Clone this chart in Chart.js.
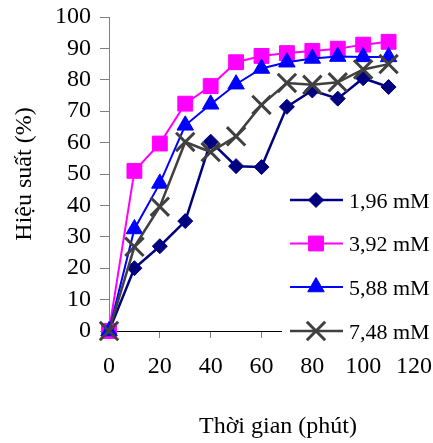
<!DOCTYPE html>
<html lang="vi">
<head>
<meta charset="UTF-8">
<title>Hiệu suất theo thời gian</title>
<script src="https://cdn.jsdelivr.net/npm/chart.js@4.4.1/dist/chart.umd.min.js"></script>
<style>
  body { margin: 0; background: #fff; }
  #wrap { width: 433px; height: 443px; }
</style>
</head>
<body>
<div id="wrap"><canvas id="myChart" width="433" height="443"></canvas></div>
<script>
// thoi gian (phut)
var thoiGian = [0, 10, 20, 30, 40, 50, 60, 70, 80, 90, 100, 110];
var nhan = ['1,96 mM', '3,92 mM', '5,88 mM', '7,48 mM'];

// hieu suat (%)
var hs196 = [0, 20, 27, 35, 60.3, 52.5, 52.2, 71.4, 76.6, 74, 80.5, 77.7];
var hs392 = [0, 51, 59.7, 72.4, 78, 85.6, 87.6, 88.5, 89.2, 89.9, 91.2, 92.1];
var hs588 = [0, 32.5, 47, 65.5, 72.2, 78.6, 83.6, 85.6, 86.8, 87.4, 87.3, 87.3];
var hs748 = [0, 26.8, 39.6, 60.2, 57, 62, 72, 79, 78.4, 79.2, 83.3, 85];

var mau = ['#000080', '#ff00ff', '#0000ff', '#404040'];
var kieuDiem = ['rectRot', 'rect', 'triangle', 'crossRot'];
var coDiem = [7.5, 10.5, 9.5, 13];
var netDuong = [2.5, 2, 2, 2.5];

var font = { family: 'Liberation Serif', size: 24 };
var fontChu = { family: 'Liberation Serif', size: 22 };

function toPoints(arr) {
    return thoiGian.map(function (t, i) { return { x: t, y: arr[i] }; });
}

var series = [hs196, hs392, hs588, hs748];
var datasets = series.map(function (arr, i) {
    return {
        label: nhan[i],
        data: toPoints(arr),
        borderColor: mau[i],
        backgroundColor: mau[i],
        borderWidth: netDuong[i],
        pointStyle: kieuDiem[i],
        pointRadius: coDiem[i],
        pointBorderWidth: i == 3 ? 3 : 1,
        pointBorderColor: mau[i],
        pointBackgroundColor: mau[i],
        tension: 0,
        clip: false,
        order: 4 - i
    };
});

// legend box drawn over the lower right of the plot, like the original
var legendBox = {
    id: 'legendBox',
    afterDraw: function (chart) {
        var ctx = chart.ctx;
        ctx.save();
        ctx.fillStyle = '#fff';
        ctx.fillRect(282, 178, 151, 170);
        var rows = [200, 243.5, 287, 331];
        chart.data.datasets.forEach(function (ds, i) {
            var y = rows[i];
            ctx.strokeStyle = ds.borderColor;
            ctx.lineWidth = ds.borderWidth;
            ctx.beginPath();
            ctx.moveTo(290, y);
            ctx.lineTo(343, y);
            ctx.stroke();
            ctx.fillStyle = ds.pointBackgroundColor;
            ctx.lineWidth = ds.pointBorderWidth;
            Chart.helpers.drawPoint(ctx, {
                pointStyle: ds.pointStyle,
                radius: ds.pointRadius,
                rotation: 0,
                borderWidth: ds.pointBorderWidth
            }, 316, y);
            ctx.fillStyle = '#000';
            ctx.font = fontChu.size + 'px ' + fontChu.family;
            ctx.textAlign = 'left';
            ctx.textBaseline = 'alphabetic';
            ctx.fillText(ds.label, 349, y + 7.5);
        });
        // x axis title sits a bit right of the plot centre
        ctx.font = font.size + 'px ' + font.family;
        ctx.textAlign = 'center';
        ctx.fillText('Thời gian (phút)', 278, 433);
        ctx.restore();
    }
};

var ctx = document.getElementById('myChart').getContext('2d');
var myChart = new Chart(ctx, {
    type: 'line',
    data: { datasets: datasets },
    plugins: [legendBox],
    options: {
        responsive: false,
        animation: false,
        devicePixelRatio: 1,
        layout: { padding: { top: 17, right: 19, left: 0, bottom: 0 } },
        plugins: {
            legend: { display: false },
            tooltip: { enabled: false }
        },
        scales: {
            x: {
                type: 'linear',
                min: 0,
                max: 120,
                afterFit: function (scale) {
                    scale.height = 112;
                    scale.paddingLeft = 0;
                    scale.paddingRight = 0;
                },
                ticks: { stepSize: 20, autoSkip: false, color: '#000', font: font, padding: 14, maxRotation: 0 },
                grid: { drawOnChartArea: false, tickLength: 7, color: '#808080' },
                border: { color: '#000', width: 1 }
            },
            y: {
                min: 0,
                max: 100,
                afterFit: function (scale) {
                    scale.width = 109;
                    scale.paddingTop = 0;
                    scale.paddingBottom = 0;
                },
                ticks: { stepSize: 10, autoSkip: false, color: '#000', font: font, padding: 9 },
                grid: { drawOnChartArea: false, tickLength: 9, color: '#808080' },
                border: { color: '#808080', width: 1 },
                title: { display: true, text: 'Hiệu suất (%)', color: '#000', font: font, padding: { top: 10, bottom: 0 } }
            }
        }
    }
});
</script>
</body>
</html>
